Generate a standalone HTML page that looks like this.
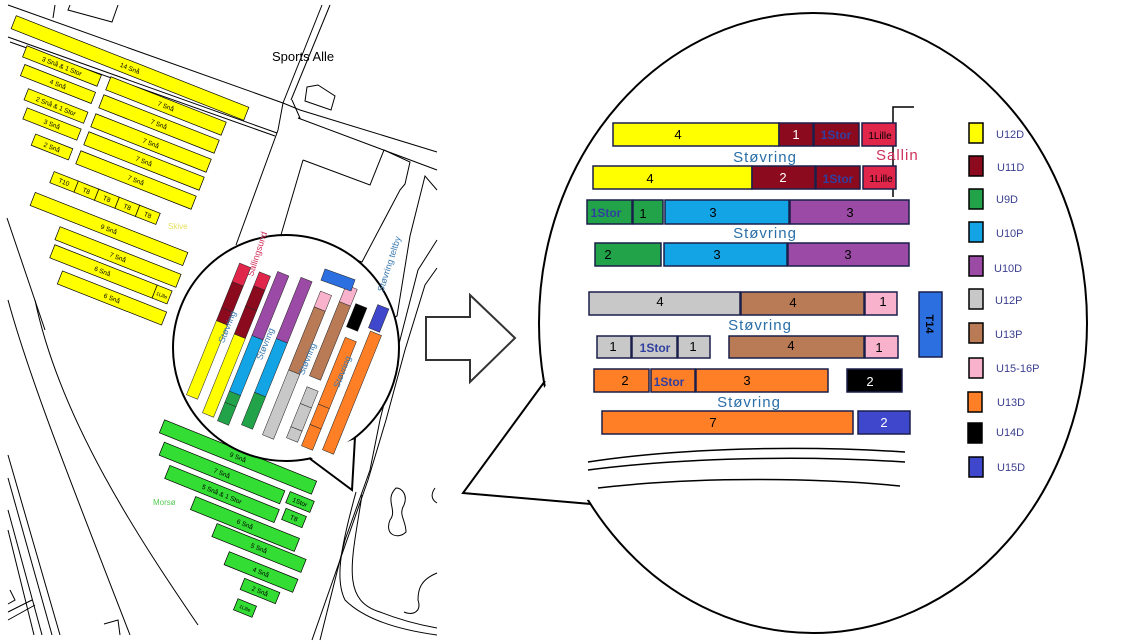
<!DOCTYPE html>
<html><head><meta charset="utf-8"><style>
html,body{margin:0;padding:0;background:#fff;overflow:hidden;}
svg{display:block;}
text{font-family:"Liberation Sans",sans-serif;}
</style></head><body>
<svg width="1127" height="644" viewBox="0 0 1127 644" xmlns="http://www.w3.org/2000/svg">
<rect width="1127" height="644" fill="#fff"/>
<g fill="none" stroke="#000" stroke-width="1">
<polyline points="8,5 283,103 300,110 437,152"/>
<polyline points="8,37 277,133"/>
<polyline points="10,42 275,136"/>
<polyline points="322,5 283,103 278,130 236,245"/>
<polyline points="330,5 291,100"/>
<polyline points="55,5 53,18"/>
<polyline points="70,5 68,10 112,22 118,5"/>
<polyline points="292,100 300,118 298,118 437,170"/>
<polygon points="307,87 318,85 335,96 331,110 305,101"/>
<polyline points="303,160 370,185 384,150 410,162 405,184 400,190 362,262 345,256"/>
<polyline points="303,160 278,245 316,258"/>
<polyline points="437,190 425,176 410,236 397,316 370,330"/>
<polyline points="437,240 418,270 400,340 380,420 370,470 345,540 320,640"/>
<polyline points="437,268 425,285 405,350 386,420 368,480 340,560 312,640"/>
<path d="M8,300 C30,380 70,480 130,635"/>
<path d="M35,300 C60,420 140,540 198,625"/>
<path d="M7,218 L45,330"/>
<path d="M8,455 L60,635 M8,478 L52,635 M8,510 L42,635 M8,530 L34,635"/>
<path d="M8,620 L35,605 M8,612 L32,600 M10,590 L15,600 L8,604 M104,624 L118,620 L120,635"/>
<path d="M356,492 C340,550 335,580 345,600 C365,620 400,630 437,635"/>
<path d="M362,495 C352,560 340,600 380,612 C400,620 420,625 437,628"/>
<path d="M396,488 C384,500 398,510 390,520 C384,535 398,540 406,532 C406,520 398,515 404,505 C408,495 402,488 396,488 Z"/>
<path d="M437,573 C420,580 418,590 418,600 C422,612 412,616 404,612"/>
<path d="M435,488 C430,495 432,500 437,503"/>
</g>
<text x="272" y="61" font-size="13" fill="#000">Sports Alle</text>
<g font-size="6.5" fill="#000" text-anchor="middle">
<g transform="translate(130,68) rotate(21.5)"><rect x="-125" y="-7" width="250" height="14" fill="#ffff00" stroke="#000" stroke-width=".7"/><text y="2.5">14 Snå</text></g>
<g transform="translate(62,66) rotate(21.5)"><rect x="-40" y="-6" width="80" height="12" fill="#ffff00" stroke="#000" stroke-width=".7"/><text y="2.5">3 Snå &amp; 1 Stor</text></g>
<g transform="translate(58,84) rotate(21.5)"><rect x="-38" y="-6" width="76" height="12" fill="#ffff00" stroke="#000" stroke-width=".7"/><text y="2.5">4 Snå</text></g>
<g transform="translate(56,106) rotate(21.5)"><rect x="-32" y="-6" width="64" height="12" fill="#ffff00" stroke="#000" stroke-width=".7"/><text y="2.5">2 Snå &amp; 1 Stor</text></g>
<g transform="translate(52,124) rotate(21.5)"><rect x="-29" y="-6" width="58" height="12" fill="#ffff00" stroke="#000" stroke-width=".7"/><text y="2.5">3 Snå</text></g>
<g transform="translate(52,147) rotate(21.5)"><rect x="-20" y="-6" width="40" height="12" fill="#ffff00" stroke="#000" stroke-width=".7"/><text y="2.5">2 Snå</text></g>
<g transform="translate(166,106) rotate(21.5)"><rect x="-62" y="-7" width="124" height="14" fill="#ffff00" stroke="#000" stroke-width=".7"/><text y="2.5">7 Snå</text></g>
<g transform="translate(159,124) rotate(21.5)"><rect x="-62" y="-7" width="124" height="14" fill="#ffff00" stroke="#000" stroke-width=".7"/><text y="2.5">7 Snå</text></g>
<g transform="translate(151,143) rotate(21.5)"><rect x="-62" y="-7" width="124" height="14" fill="#ffff00" stroke="#000" stroke-width=".7"/><text y="2.5">7 Snå</text></g>
<g transform="translate(144,161) rotate(21.5)"><rect x="-62" y="-7" width="124" height="14" fill="#ffff00" stroke="#000" stroke-width=".7"/><text y="2.5">7 Snå</text></g>
<g transform="translate(136,180) rotate(21.5)"><rect x="-62" y="-7" width="124" height="14" fill="#ffff00" stroke="#000" stroke-width=".7"/><text y="2.5">7 Snå</text></g>
<g transform="translate(105,198) rotate(21.5)" fill="#ffff00" stroke="#000" stroke-width=".7">
<rect x="-57" y="-6" width="26" height="12"/><rect x="-31" y="-6" width="22" height="12"/><rect x="-9" y="-6" width="22" height="12"/><rect x="13" y="-6" width="22" height="12"/><rect x="35" y="-6" width="22" height="12"/>
<g fill="#000" stroke="none"><text x="-44" y="2.5">T10</text><text x="-20" y="2.5">T8</text><text x="2" y="2.5">T8</text><text x="24" y="2.5">T8</text><text x="46" y="2.5">T8</text></g></g>
<g transform="translate(109,229) rotate(21.5)"><rect x="-82" y="-7" width="164" height="14" fill="#ffff00" stroke="#000" stroke-width=".7"/><text y="2.5">9 Snå</text></g>
<g transform="translate(118,257) rotate(21.5)"><rect x="-65" y="-7" width="130" height="14" fill="#ffff00" stroke="#000" stroke-width=".7"/><text y="2.5">7 Snå</text></g>
<g transform="translate(110,274) rotate(21.5)"><rect x="-62" y="-7" width="110" height="14" fill="#ffff00" stroke="#000" stroke-width=".7"/><rect x="48" y="-7" width="16" height="14" fill="#ffff00" stroke="#000" stroke-width=".7"/><text x="-8" y="2.5">6 Snå</text><text x="56" y="2.5" font-size="5">1Lille</text></g>
<g transform="translate(112,298) rotate(21.5)"><rect x="-56" y="-7" width="112" height="14" fill="#ffff00" stroke="#000" stroke-width=".7"/><text y="2.5">6 Snå</text></g>
</g>
<text x="168" y="229" font-size="8" fill="#e8e060">Skive</text>
<g font-size="6.5" fill="#000" text-anchor="middle">
<g transform="translate(238,457) rotate(22)"><rect x="-82" y="-7" width="164" height="14" fill="#33dd33" stroke="#000" stroke-width=".7"/><text y="2.5">9 Snå</text></g>
<g transform="translate(222,473) rotate(22)"><rect x="-65" y="-7" width="130" height="14" fill="#33dd33" stroke="#000" stroke-width=".7"/><text y="2.5">7 Snå</text></g>
<g transform="translate(222,494) rotate(22)"><rect x="-59" y="-7" width="118" height="14" fill="#33dd33" stroke="#000" stroke-width=".7"/><text y="2.5">5 Snå &amp; 1 Stor</text></g>
<g transform="translate(300,502) rotate(22)"><rect x="-13" y="-6" width="26" height="12" fill="#33dd33" stroke="#000" stroke-width=".7"/><text y="2.5">1Stor</text></g>
<g transform="translate(294,518) rotate(22)"><rect x="-11" y="-6" width="22" height="12" fill="#33dd33" stroke="#000" stroke-width=".7"/><text y="2.5">T8</text></g>
<g transform="translate(245,524) rotate(22)"><rect x="-56" y="-7" width="112" height="14" fill="#33dd33" stroke="#000" stroke-width=".7"/><text y="2.5">6 Snå</text></g>
<g transform="translate(259,548) rotate(22)"><rect x="-48" y="-7" width="96" height="14" fill="#33dd33" stroke="#000" stroke-width=".7"/><text y="2.5">5 Snå</text></g>
<g transform="translate(261,572) rotate(22)"><rect x="-37" y="-7" width="74" height="14" fill="#33dd33" stroke="#000" stroke-width=".7"/><text y="2.5">4 Snå</text></g>
<g transform="translate(260,591) rotate(22)"><rect x="-19" y="-6" width="38" height="12" fill="#33dd33" stroke="#000" stroke-width=".7"/><text y="2.5">2 Snå</text></g>
<g transform="translate(245,608) rotate(22)"><rect x="-10" y="-6" width="20" height="12" fill="#33dd33" stroke="#000" stroke-width=".7"/><text y="2" font-size="5">1Lille</text></g>
</g>
<text x="153" y="505" font-size="8" fill="#55cc55">Morsø</text>
<circle cx="286" cy="348" r="113" fill="#fff" stroke="#000" stroke-width="2"/>
<polygon points="309,456 352,488 355,439" fill="#fff"/>
<polyline points="309,458 352,490 355,437" fill="none" stroke="#000" stroke-width="2"/>
<text transform="translate(260,255) rotate(-72)" font-size="9" fill="#d0305a" text-anchor="middle">Sallingsund</text>
<text transform="translate(392,265) rotate(-72)" font-size="9" fill="#3a7ab0" text-anchor="middle">Støvring teltby</text>
<g font-size="5" text-anchor="middle" stroke="#222" stroke-width=".5">
<g transform="translate(192,397) rotate(-68)"><rect x="0" y="-6" width="80" height="12" fill="#ffff00"/><rect x="80" y="-6" width="14" height="12" fill="#8b0a1e"/><rect x="94" y="-6" width="28" height="12" fill="#8b0a1e"/><rect x="122" y="-6" width="20" height="12" fill="#e0264a"/></g>
<g transform="translate(208,415) rotate(-68)"><rect x="0" y="-6" width="85" height="12" fill="#ffff00"/><rect x="85" y="-6" width="30" height="12" fill="#8b0a1e"/><rect x="115" y="-6" width="22" height="12" fill="#8b0a1e"/><rect x="137" y="-6" width="15" height="12" fill="#e0264a"/></g>
<g transform="translate(223,423) rotate(-68)"><rect x="0" y="-6" width="20" height="12" fill="#22a34a"/><rect x="20" y="-6" width="12" height="12" fill="#22a34a"/><rect x="32" y="-6" width="60" height="12" fill="#13a4e6"/><rect x="92" y="-6" width="69" height="12" fill="#9b4aa5"/></g>
<g transform="translate(247,427) rotate(-68)"><rect x="0" y="-6" width="35" height="12" fill="#22a34a"/><rect x="35" y="-6" width="58" height="12" fill="#13a4e6"/><rect x="93" y="-6" width="66" height="12" fill="#9b4aa5"/></g>
<g transform="translate(268,437) rotate(-68)"><rect x="0" y="-6" width="70" height="12" fill="#c8c8c8"/><rect x="70" y="-6" width="68" height="12" fill="#b97a56"/><rect x="138" y="-6" width="17" height="12" fill="#f8b2cb"/></g>
<g transform="translate(292,440) rotate(-68)"><rect x="0" y="-6" width="12" height="12" fill="#c8c8c8"/><rect x="12" y="-6" width="25" height="12" fill="#c8c8c8"/><rect x="37" y="-6" width="18" height="12" fill="#c8c8c8"/></g>
<g transform="translate(315,378) rotate(-68)"><rect x="0" y="-6" width="80" height="12" fill="#b97a56"/><rect x="80" y="-6" width="18" height="12" fill="#f8b2cb"/></g>
<g transform="translate(307,448) rotate(-68)"><rect x="0" y="-6" width="23" height="12" fill="#ff7f27"/><rect x="23" y="-6" width="22" height="12" fill="#ff7f27"/><rect x="45" y="-6" width="72" height="12" fill="#ff7f27"/></g>
<g transform="translate(328,452) rotate(-68)"><rect x="0" y="-6" width="128" height="12" fill="#ff7f27"/></g>
<g transform="translate(352,329) rotate(-68)"><rect x="0" y="-6" width="25" height="12" fill="#000"/></g>
<g transform="translate(374,330) rotate(-68)"><rect x="0" y="-6" width="25" height="12" fill="#3f48cc"/></g>
<g transform="translate(338,280) rotate(20)"><rect x="-16" y="-6" width="32" height="12" fill="#2b6fe0"/></g>
</g>
<g font-size="9" fill="#3a7ab0" text-anchor="middle">
<text transform="translate(230,328) rotate(-68)">Støvring</text>
<text transform="translate(268,345) rotate(-68)">Støvring</text>
<text transform="translate(310,360) rotate(-68)">Støvring</text>
<text transform="translate(345,373) rotate(-68)">Støvring</text>
</g>
<polygon points="426,317 470,317 470,295 515,338 470,382 470,360 426,360" fill="#fff" stroke="#333" stroke-width="2"/>
<ellipse cx="813" cy="323" rx="274" ry="310" fill="#fff" stroke="#000" stroke-width="2"/>
<polygon points="547,384 465,492 589,500" fill="#fff"/>
<polyline points="545,381 463,493 591,504" fill="none" stroke="#000" stroke-width="2"/>
<g fill="none" stroke="#000" stroke-width="1.5">
<path d="M588,462 C680,448 800,445 905,452"/>
<path d="M588,470 C680,458 800,455 905,462"/>
<path d="M598,488 C700,476 820,478 900,486"/>
</g>
<path d="M893,197 L893,107 L914,107" fill="none" stroke="#000" stroke-width="1.5"/>
<g stroke="#1a1f4a" stroke-width="1.5" font-size="13" text-anchor="middle">
<rect x="613" y="123" width="166" height="23" fill="#ffff00"/>
<rect x="779" y="123" width="34" height="23" fill="#8b0a1e"/>
<rect x="814" y="123" width="45" height="23" fill="#8b0a1e"/>
<rect x="862" y="123" width="34" height="23" fill="#e0264a"/>
<rect x="593" y="166" width="159" height="23" fill="#ffff00"/>
<rect x="752" y="166" width="63" height="23" fill="#8b0a1e"/>
<rect x="816" y="166" width="44" height="23" fill="#8b0a1e"/>
<rect x="863" y="166" width="33" height="23" fill="#e0264a"/>
<rect x="587" y="200" width="45" height="24" fill="#22a34a"/>
<rect x="633" y="200" width="30" height="24" fill="#22a34a"/>
<rect x="665" y="200" width="124" height="24" fill="#13a4e6"/>
<rect x="790" y="200" width="119" height="24" fill="#9b4aa5"/>
<rect x="595" y="243" width="66" height="23" fill="#22a34a"/>
<rect x="664" y="243" width="123" height="23" fill="#13a4e6"/>
<rect x="788" y="243" width="121" height="23" fill="#9b4aa5"/>
<rect x="589" y="292" width="151" height="23" fill="#c8c8c8"/>
<rect x="741" y="292" width="123" height="23" fill="#b97a56"/>
<rect x="865" y="292" width="32" height="23" fill="#f8b2cb"/>
<rect x="597" y="336" width="34" height="22" fill="#c8c8c8"/>
<rect x="632" y="336" width="45" height="22" fill="#c8c8c8"/>
<rect x="678" y="336" width="32" height="22" fill="#c8c8c8"/>
<rect x="729" y="336" width="135" height="22" fill="#b97a56"/>
<rect x="865" y="336" width="33" height="22" fill="#f8b2cb"/>
<rect x="594" y="369" width="55" height="23" fill="#ff7f27"/>
<rect x="651" y="369" width="44" height="23" fill="#ff7f27"/>
<rect x="696" y="369" width="132" height="23" fill="#ff7f27"/>
<rect x="847" y="369" width="55" height="23" fill="#000"/>
<rect x="602" y="411" width="251" height="23" fill="#ff7f27"/>
<rect x="858" y="411" width="52" height="23" fill="#3f48cc"/>
<rect x="919" y="292" width="23" height="65" fill="#2b6fe0"/>
</g>
<g font-size="13" text-anchor="middle" fill="#000">
<text x="678" y="139">4</text><text x="796" y="139" fill="#fff">1</text>
<text x="650" y="183">4</text><text x="783" y="182" fill="#fff">2</text>
<text x="643" y="218">1</text><text x="713" y="217">3</text><text x="850" y="217">3</text>
<text x="608" y="259">2</text><text x="717" y="259">3</text><text x="848" y="259">3</text>
<text x="660" y="306">4</text><text x="793" y="307">4</text><text x="883" y="306">1</text>
<text x="613" y="351">1</text><text x="693" y="351">1</text><text x="791" y="350">4</text><text x="879" y="352">1</text>
<text x="625" y="385">2</text><text x="747" y="385">3</text><text x="870" y="386" fill="#fff">2</text>
<text x="713" y="427">7</text><text x="884" y="427" fill="#fff">2</text>
<text transform="translate(926,324) rotate(90)" font-size="11" font-weight="bold">T14</text>
</g>
<g font-size="12" font-weight="bold" fill="#3040a0" text-anchor="middle">
<text x="836" y="139">1Stor</text><text x="838" y="183">1Stor</text>
<text x="606" y="217">1Stor</text><text x="655" y="352">1Stor</text><text x="669" y="386">1Stor</text>
</g>
<g font-size="10" text-anchor="middle" fill="#000">
<text x="880" y="139">1Lille</text><text x="881" y="182">1Lille</text>
</g>
<g font-size="15" fill="#2a6fa8" text-anchor="middle" letter-spacing="1">
<text x="765" y="162">Støvring</text><text x="765" y="238">Støvring</text>
<text x="760" y="330">Støvring</text><text x="749" y="407">Støvring</text>
</g>
<text x="876" y="160" font-size="15" fill="#d0305a" letter-spacing="1">Sallin</text>
<g stroke="#000" stroke-width="1.5">
<rect x="969" y="123" width="14" height="20" fill="#ffff00"/>
<rect x="969" y="156" width="14" height="20" fill="#8b0a1e"/>
<rect x="969" y="189" width="14" height="20" fill="#22a34a"/>
<rect x="969" y="222" width="14" height="20" fill="#13a4e6"/>
<rect x="969" y="256" width="14" height="20" fill="#9b4aa5"/>
<rect x="969" y="289" width="14" height="20" fill="#c8c8c8"/>
<rect x="969" y="323" width="14" height="20" fill="#b97a56"/>
<rect x="969" y="358" width="14" height="20" fill="#f8b2cb"/>
<rect x="968" y="392" width="14" height="20" fill="#ff7f27"/>
<rect x="968" y="423" width="14" height="20" fill="#000"/>
<rect x="969" y="457" width="14" height="20" fill="#3f48cc"/>
</g>
<g font-size="11" fill="#3b3f8f">
<text x="996" y="138">U12D</text><text x="997" y="171">U11D</text><text x="996" y="203">U9D</text>
<text x="996" y="237">U10P</text><text x="994" y="272">U10D</text><text x="995" y="304">U12P</text>
<text x="995" y="338">U13P</text><text x="996" y="372">U15-16P</text><text x="997" y="406">U13D</text>
<text x="996" y="436">U14D</text><text x="997" y="471">U15D</text>
</g>
</svg>
</body></html>
